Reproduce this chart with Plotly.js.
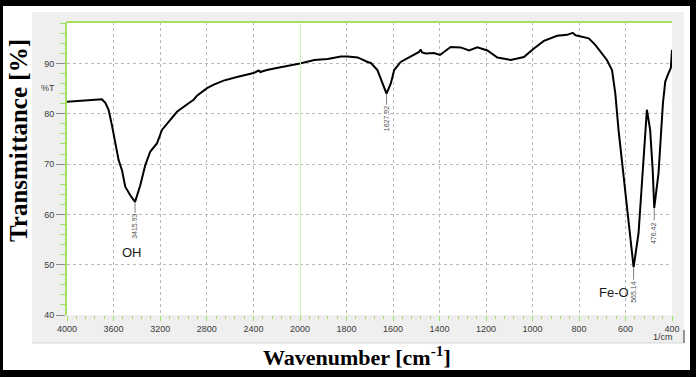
<!DOCTYPE html>
<html><head><meta charset="utf-8">
<script src="https://cdn.plot.ly/plotly-3.0.1.min.js"></script>
<style>html,body{margin:0;padding:0;background:#fff}#chart{width:696px;height:377px}</style>
</head><body><div id="chart"></div>
<script>
// ---- data ----
const wavenumber = [4000,3950,3886,3800,3740,3700,3671,3643,3614,3585,3557,3528,3500,3457,3415.93,3371,3328,3285,3228,3185,3128,3056,2956,2913,2884,2827,2798,2740,2656,2541,2450,2398,2355,2340,2327,2284,2200,2141,2060,2000,
  1939,1881,1824,1795,1752,1709,1695,1667,1645,1627.92,1609,1595,1567,1524,1488,1481,1475,1459,1424,1398,1352,1309,1273,1237,1194,1151,1094,1037,994,951,894,851,827,815,794,758,730,708,680,658,644,630,608,587,565.14,544,522,508,494,483,476.42,458,439,429,415,405,400];
const transmittance = [82.4,82.5,82.6,82.8,82.9,82.9,82.2,80.8,77.7,74.1,70.8,68.8,65.5,63.8,62.5,65.8,69.8,72.5,74.1,76.8,78.4,80.4,82.1,82.8,83.6,84.5,85.1,85.8,86.6,87.3,87.8,88.1,88.6,88.3,88.4,88.7,89.1,89.4,89.8,90.0,
  90.7,90.9,91.4,91.4,91.2,90.3,90.1,88.7,86.1,84.0,86.1,88.7,90.3,91.3,92.3,92.8,92.2,92.0,92.1,91.7,93.3,93.2,92.6,93.2,92.6,91.2,90.7,91.3,93.0,94.5,95.5,95.7,96.1,95.6,95.4,95.0,93.7,92.3,90.7,88.7,84.1,76.8,67.5,57.6,49.5,56.2,70.8,80.8,76.8,68.8,61.3,68.2,82.1,86.4,88.1,89.1,92.7];
const leftTicks = [4000,3600,3200,2800,2400];
const rightTicks = [2000,1800,1600,1400,1200,1000,800,600,400];
const yTicks = [40,50,60,70,80,90];
const peakWavenumbers = [3415.93,1627.92,565.14,476.42];
const peakLabels = ['3415.93','1627.92','565.14','476.42'];
const bandNames = ['OH','Fe-O'];
const bandPositions = [[3440,52.5],[648,44.5]];
const scaleBreak = 2000;

// ---- geometry ----
const W=696,H=377,L=67,R=24,T=22,B=62;
const pw=W-L-R, ph=H-T-B;
const fx=p=>(p-L)/pw, fy=p=>(H-B-p)/ph;
const split=233/605;
const green='#a2df62', paleGreen='#d2f3b2', grid='#b8b8b8';

const hiX=[],hiY=[],loX=[],loY=[];
wavenumber.forEach((w,i)=>{
  if(w>=scaleBreak){hiX.push(w);hiY.push(transmittance[i]);}
  if(w<=scaleBreak){loX.push(w);loY.push(transmittance[i]);}
});
const lineStyle={color:'#000',width:2};
const traces=[
  {x:hiX,y:hiY,xaxis:'x',yaxis:'y',type:'scatter',mode:'lines',line:lineStyle,hoverinfo:'skip'},
  {x:loX,y:loY,xaxis:'x2',yaxis:'y',type:'scatter',mode:'lines',line:lineStyle,hoverinfo:'skip'}
];

function rectPath(x0,y0,x1,y1){return `M${fx(x0)},${fy(y0)} L${fx(x1)},${fy(y0)} L${fx(x1)},${fy(y1)} L${fx(x0)},${fy(y1)} Z`;}

const xCommon={
  showgrid:true,gridcolor:grid,griddash:'dot',gridwidth:1,
  ticks:'outside',ticklen:5,tickcolor:green,tickwidth:1,
  showline:false,zeroline:false,fixedrange:true,anchor:'y',
  tickfont:{size:9,color:'#3a3a3a'}
};
const layout={
  width:W,height:H,margin:{l:L,r:R,t:T,b:B,pad:0},
  paper_bgcolor:'#fff',plot_bgcolor:'#fff',showlegend:false,
  font:{family:'"Liberation Sans", Arial, sans-serif',size:9,color:'#3a3a3a'},
  xaxis:Object.assign({},xCommon,{domain:[0,split],range:[4000,scaleBreak],tickmode:'array',tickvals:leftTicks,
    minor:{tickmode:'linear',tick0:4000,dtick:80,ticks:'outside',ticklen:3,tickcolor:green,showgrid:false}}),
  xaxis2:Object.assign({},xCommon,{domain:[split,1],range:[scaleBreak,400],tickmode:'array',tickvals:rightTicks,
    minor:{tickmode:'linear',tick0:2000,dtick:40,ticks:'outside',ticklen:3,tickcolor:green,showgrid:false}}),
  yaxis:{range:[40,40+ph/5.03],tickmode:'array',tickvals:yTicks,ticks:'outside',ticklen:9,tickcolor:'#8c8c8c',
    showline:true,linecolor:green,linewidth:2,showgrid:true,gridcolor:grid,griddash:'dot',zeroline:false,fixedrange:true,
    tickfont:{size:9,color:'#3a3a3a'},
    minor:{tickmode:'linear',tick0:40,dtick:2,ticks:'outside',ticklen:5,tickcolor:green,showgrid:false}},
  shapes:[
    {type:'path',xref:'paper',yref:'paper',layer:'below',fillrule:'evenodd',
      path:rectPath(32,12,684,343)+' '+rectPath(L,T,L+pw,H-B),fillcolor:'#efefef',line:{width:0}},
    {type:'line',xref:'paper',yref:'paper',x0:fx(32),x1:fx(684),y0:fy(343),y1:fy(343),line:{color:'#d8d8d8',width:1}},
    {type:'line',xref:'paper',yref:'paper',x0:fx(684),x1:fx(684),y0:fy(330),y1:fy(343),line:{color:'#333',width:1}},
    {type:'line',xref:'x2',yref:'paper',x0:scaleBreak,x1:scaleBreak,y0:0,y1:1,line:{color:paleGreen,width:2}},
    {type:'line',xref:'paper',yref:'paper',x0:0,x1:1,y0:1,y1:1,line:{color:green,width:2}},
    {type:'path',xref:'paper',yref:'paper',layer:'above',fillrule:'evenodd',
      path:rectPath(0,0,W,H)+' '+rectPath(3,6,690,370),fillcolor:'#000',line:{width:0}}
  ],
  annotations:[]
};
const serif='"Liberation Serif", "Times New Roman", serif';
layout.annotations.push(
  {xref:'paper',yref:'paper',x:fx(18),y:fy(141),text:'<b>Transmittance [%]</b>',textangle:-90,showarrow:false,
    font:{family:serif,size:25,color:'#000'},xanchor:'center',yanchor:'middle'},
  {xref:'paper',yref:'paper',x:fx(357),y:fy(356),text:'<b>Wavenumber [cm<sup>-1</sup>]</b>',showarrow:false,
    font:{family:serif,size:22,color:'#000'},xanchor:'center',yanchor:'middle'},
  {xref:'paper',yref:'paper',x:fx(47.5),y:fy(88),text:'%T',showarrow:false,font:{size:9,color:'#3a3a3a'},xanchor:'center',yanchor:'middle'},
  {xref:'paper',yref:'paper',x:fx(663),y:fy(337),text:'1/cm',showarrow:false,font:{size:9,color:'#3a3a3a'},xanchor:'center',yanchor:'middle'}
);
peakWavenumbers.forEach((w,k)=>{
  const i=wavenumber.indexOf(w);
  layout.annotations.push({xref:w>=scaleBreak?'x':'x2',yref:'y',x:w,y:transmittance[i],text:peakLabels[k],
    textangle:-90,showarrow:true,arrowhead:0,arrowwidth:1,arrowcolor:'#808080',ax:0,ay:25,standoff:0,
    font:{size:7,color:'#505050'}});
});
bandNames.forEach((n,k)=>{
  const [bx,by]=bandPositions[k];
  layout.annotations.push({xref:bx>=scaleBreak?'x':'x2',yref:'y',x:bx,y:by,text:n,showarrow:false,
    font:{size:13,color:'#1a1a1a'},xanchor:'center',yanchor:'middle'});
});
Plotly.newPlot('chart',traces,layout,{displayModeBar:false,staticPlot:true});
</script></body></html>
